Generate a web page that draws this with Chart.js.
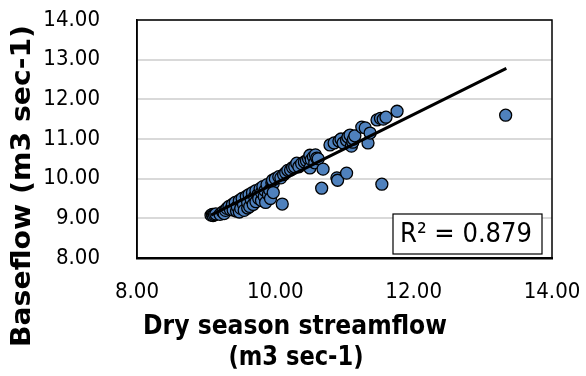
<!DOCTYPE html>
<html>
<head>
<meta charset="utf-8">
<script src="https://cdn.jsdelivr.net/npm/chart.js@4.4.1/dist/chart.umd.min.js"></script>
<style>
    body { margin: 0; background: #fff; }
    canvas { display: block; }
</style>
</head>
<body>
<canvas id="chart" width="586" height="376"></canvas>
<script>
// dry season streamflow (x) against baseflow (y)
var flowX = [
    9.07, 9.09, 9.10, 9.12, 9.14, 9.20, 9.24, 9.26, 9.28, 9.30,
    9.33, 9.35, 9.38, 9.39, 9.42, 9.44, 9.45, 9.48, 9.48, 9.50, 9.52, 9.54, 9.55, 9.58, 9.60, 9.60,
    9.62, 9.63, 9.65, 9.67, 9.68, 9.70, 9.72, 9.72, 9.75, 9.76, 9.78, 9.80, 9.80, 9.82, 9.84, 9.85,
    9.86, 9.88, 9.90, 9.92, 9.93, 9.95, 9.97, 9.97, 9.96, 10.00,
    10.05, 10.08, 10.10, 10.12, 10.15, 10.18, 10.22, 10.25, 10.28, 10.31, 10.34, 10.38, 10.42, 10.45,
    10.48, 10.50, 10.50, 10.52, 10.55, 10.57, 10.58, 10.60, 10.62,
    10.67, 10.69, 10.89, 10.90, 11.03, 11.54,
    10.79, 10.85, 10.92, 10.95, 10.98, 11.03, 11.05, 11.08, 11.10, 11.12, 11.13, 11.15,
    11.25, 11.30, 11.34, 11.37, 11.47, 11.52, 11.56, 11.60, 11.76,
    13.33
];
var baseY = [
    9.08, 9.10, 9.07, 9.09, 9.11, 9.10, 9.16, 9.12, 9.20, 9.25,
    9.30, 9.22, 9.35, 9.21, 9.40, 9.18, 9.30, 9.16, 9.45, 9.25, 9.50, 9.35, 9.20, 9.55, 9.26, 9.40,
    9.60, 9.30, 9.48, 9.65, 9.35, 9.55, 9.70, 9.42, 9.60, 9.50, 9.75, 9.45, 9.65, 9.80, 9.55, 9.70,
    9.40, 9.85, 9.60, 9.71, 9.50, 9.90, 9.88, 9.65, 9.96, 10.00,
    10.05, 10.02, 9.36, 10.10, 10.15, 10.21, 10.22, 10.28, 10.30, 10.39, 10.30, 10.38, 10.42, 10.45,
    10.50, 10.27, 10.59, 10.48, 10.55, 10.40, 10.60, 10.52, 10.50,
    9.76, 10.24, 10.02, 9.96, 10.14, 9.86,
    10.85, 10.90, 10.95, 11.00, 10.90, 10.97, 11.05, 11.10, 10.82, 10.92, 11.00, 11.08,
    11.30, 11.28, 10.90, 11.15, 11.48, 11.52, 11.50, 11.55, 11.70,
    11.60
];
// linear trendline ends
var trendX = [9.07, 13.34];
var trendY = [9.08, 12.78];
var rSquared = 'R² = 0.879';

var xTitle = ['Dry season streamflow', '(m3 sec-1)'];
var yTitle = 'Baseflow (m3 sec-1)';

var FONT = '"DejaVu Sans Condensed", "DejaVu Sans", sans-serif';

var points = flowX.map(function (x, i) { return { x: x, y: baseY[i] }; });
var trend = trendX.map(function (x, i) { return { x: x, y: trendY[i] }; });

// text stretched to a given length along its own direction
function fitText(ctx, text, x, y, len, angle) {
    ctx.save();
    ctx.translate(x, y);
    ctx.rotate(angle);
    var w = ctx.measureText(text).width;
    ctx.scale(len / w, 1);
    ctx.fillText(text, 0, 0);
    ctx.restore();
}

// box round the plot, R² label and the two axis titles
var extras = {
    id: 'extras',
    afterDraw: function (chart) {
        var ctx = chart.ctx;
        var a = chart.chartArea;
        ctx.save();
        ctx.strokeStyle = '#000';
        ctx.lineWidth = 1.5;
        ctx.strokeRect(a.left, a.top, a.right - a.left, a.bottom - a.top);

        // R² box
        ctx.fillStyle = '#fff';
        ctx.fillRect(393, 214, 149, 40);
        ctx.lineWidth = 1.2;
        ctx.strokeRect(393, 214, 149, 40);
        ctx.fillStyle = '#000';
        ctx.font = '26px ' + FONT;
        ctx.textAlign = 'center';
        ctx.textBaseline = 'middle';
        fitText(ctx, rSquared, 466, 235, 132, 0);

        ctx.font = 'bold 26px ' + FONT;
        fitText(ctx, xTitle[0], 295, 327, 304, 0);
        fitText(ctx, xTitle[1], 296, 358, 135, 0);
        fitText(ctx, yTitle, 23, 186, 322, -Math.PI / 2);
        ctx.restore();
    }
};

new Chart(document.getElementById('chart'), {
    type: 'scatter',
    data: {
        datasets: [{
            type: 'line',
            data: trend,
            borderColor: '#000',
            borderWidth: 3,
            pointRadius: 0,
            fill: false,
            order: 0
        }, {
            data: points,
            backgroundColor: '#4f81bd',
            borderColor: '#000',
            borderWidth: 1.3,
            pointRadius: 6,
            order: 1
        }]
    },
    options: {
        responsive: false,
        animation: false,
        layout: { padding: { top: 20, right: 34, left: 0, bottom: 0 } },
        plugins: {
            legend: { display: false },
            tooltip: { enabled: false }
        },
        scales: {
            x: {
                type: 'linear',
                min: 8,
                max: 14,
                afterFit: function (s) { s.height = 118; },
                grid: { display: false, drawTicks: true, tickLength: 21, tickColor: 'rgba(0,0,0,0)' },
                border: { display: true, color: '#000', width: 2.5 },
                ticks: {
                    stepSize: 2,
                    padding: 0,
                    color: '#000',
                    font: { family: FONT, size: 22 },
                    callback: function (v) { return v.toFixed(2); }
                }
            },
            y: {
                type: 'linear',
                min: 8,
                max: 14,
                afterFit: function (s) { s.width = 137; },
                grid: { color: '#d9d9d9', lineWidth: 2, drawTicks: true, tickLength: 37, tickColor: 'rgba(0,0,0,0)' },
                border: { display: true, color: '#000', width: 1.5 },
                ticks: {
                    stepSize: 1,
                    padding: 0,
                    color: '#000',
                    font: { family: FONT, size: 22 },
                    callback: function (v) { return v.toFixed(2); }
                }
            }
        }
    },
    plugins: [extras]
});
</script>
</body>
</html>
